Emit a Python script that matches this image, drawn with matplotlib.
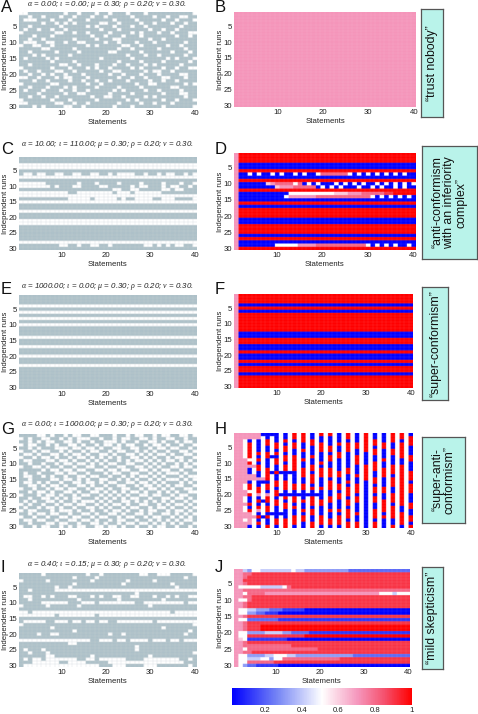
import numpy as np
import matplotlib
matplotlib.use("Agg")
import matplotlib.pyplot as plt
from matplotlib.colors import LinearSegmentedColormap, Normalize
from matplotlib.cm import ScalarMappable

plt.rcParams["font.family"] = ["Liberation Sans", "DejaVu Sans"]
plt.rcParams["mathtext.fontset"] = "custom"
plt.rcParams["mathtext.it"] = "Liberation Serif:italic"
plt.rcParams["mathtext.rm"] = "Liberation Serif:italic"

W, H = 478, 714

# left column: 1 = grey cell, 0 = white cell
run_labels = [5, 10, 15, 20, 25, 30]
stmt_labels = [10, 20, 30, 40]
cbar_labels = [0.2, 0.4, 0.6, 0.8, 1]
cbar_text = ["0.2", "0.4", "0.6", "0.8", "1"]

panel_a = """
00111 11111 01101 11011 01110 11101 11111 11110
11011 01110 11011 10110 11111 01111 01101 10011
10001 11011 10111 01111 10111 10111 11011 01110
11111 01101 01011 11100 11011 11011 01110 11011
11011 11110 11111 01011 10111 01101 11111 10111
10110 11011 01111 11101 11011 11110 11011 01111
01111 11100 11011 01111 01111 01011 10110 11100
11101 11011 11111 10110 11101 11011 11111 01101
11011 01111 11011 11011 10011 11110 11011 11111
10001 10011 01100 11110 11011 10111 01111 11011
01100 11011 11111 01011 11100 11011 11101 10111
11111 00111 11011 11111 11011 01111 10111 11011
11011 11101 11101 11111 00111 11011 11110 11101
11101 01111 10111 11111 11110 11101 10111 11011
10111 10101 11111 11101 11111 01111 11101 01110
11111 11011 11011 11111 11011 11011 11011 11101
11011 11110 01101 11011 10110 11101 01111 10111
01111 11011 10111 01011 01111 01011 11011 01100
10110 11100 11011 11101 10011 11101 00110 11111
11011 01011 01110 11111 01101 11011 10111 10011
00110 11101 00111 01111 11011 01101 11001 11011
11101 10111 10110 11011 01110 11110 11011 01111
01111 11001 11111 01101 11111 10110 01111 11010
11011 10111 01011 11011 11011 11011 11110 01111
10111 01110 11011 01111 10101 11101 10111 10111
11110 11111 01100 11111 01111 01111 11011 10011
11011 01101 11111 10110 01101 11101 01111 11011
01111 11011 10111 11011 11110 10111 11011 01110
00111 11100 11011 01111 11011 11011 01110 11111
11101 01111 00110 11111 10111 01111 11011 11110
"""

panel_c = """
11111 11111 11111 11111 11111 11111 11111 11111
11111 11111 11111 11111 11111 11111 11111 11111
00000 00000 00000 00000 00000 00000 00000 00000
00000 00000 00000 00000 00000 00000 00000 00000
11111 11111 11111 11111 11111 11111 11111 11111
10010 01100 11001 10011 01000 01101 10100 11010
00000 00000 00000 00000 00000 00000 00000 00000
11111 11111 11111 11111 11111 11111 11111 11111
00000 01111 11101 11011 11011 11011 11011 10110
00000 00101 11001 11100 11111 01001 11010 01101
11111 11111 11111 11111 10011 00111 11001 00111
00000 00000 01100 00000 01000 10000 00111 11111
00000 00000 00000 00000 00000 00000 00000 00000
11111 11111 10000 01000 00101 10000 11000 11110
00000 00000 00000 00000 00000 00000 00000 00000
11111 11111 11111 11111 11111 11111 11111 11111
11111 11111 11111 11111 11111 11111 11111 11111
00000 00000 00000 00000 00000 00000 00000 00000
11111 11111 11111 11111 11111 11111 11111 11111
11111 11111 11111 11111 11111 11111 11111 11111
00000 00000 00000 00000 00000 00000 00000 00000
00000 00000 00000 00000 00000 00000 00000 00000
11111 11111 11111 11111 11111 11111 11111 11111
11111 11111 11111 11111 11111 11111 11111 11111
11111 11111 11111 11111 11111 11111 11111 11111
11111 11111 11111 11111 11111 11111 11111 11111
11111 11111 11111 11111 11111 11111 11111 11111
00000 00000 00000 00000 00000 00000 00000 00000
11111 11110 01101 10011 01111 11100 10101 00110
11111 11111 11111 11111 11111 11111 11111 11111
"""

# rows of panel E with no grey cells at all
panel_e_white_rows = [4, 6, 8, 10, 14, 17, 20, 23]

panel_g = """
11110 01011 01001 10011 10110 10011 01001 10010
01011 00110 10100 01101 10100 11001 01100 11011
11010 10011 00101 10110 00101 10110 01011 01001
01001 10101 10010 11010 01010 01101 00101 10110
11010 11100 01001 00101 10011 00110 10010 01101
01101 00110 10110 10011 01001 10101 01101 10010
10010 11001 01001 01100 10110 01010 10010 11001
01101 00101 10100 10101 01011 00101 01101 00110
10011 10010 01011 01010 11010 10010 10100 10101
11011 01101 00100 10101 00110 01101 01011 01010
01100 10110 11011 00110 11001 10010 10110 01001
11111 01001 00100 11001 00100 11001 01001 10110
10110 11100 10011 01110 10011 00110 10100 01011
10011 01011 01100 10011 01101 01001 01011 10100
11011 11001 00101 01100 11010 10110 10100 01010
10010 10110 11001 00101 00110 01001 01011 10101
11001 01001 01100 10110 11001 10100 10101 00110
01101 10100 10011 01001 01100 11010 01010 11001
11010 01011 00101 10010 10101 00101 10101 01100
01110 10010 11010 01101 01010 11001 00110 10011
11011 00101 01001 11010 10101 00110 11001 00101
10101 10010 11010 00101 01100 10101 01010 11010
01011 01101 00100 11010 10010 11001 10101 00101
10110 10010 11011 00101 01101 00110 10010 11010
01001 11010 00101 10110 10010 11010 01101 00101
11010 01001 10110 01011 00101 10010 11001 01010
01101 10110 01001 10100 11010 01101 00110 10101
10010 01101 10010 01011 01001 10110 10101 01001
11011 10010 01101 10010 11010 01001 01010 10110
01101 00110 10100 11001 00101 10110 10011 01101
"""

panel_i = """
11111 01111 11111 01101 11111 11001 10001 11110
11111 11111 11011 11011 11111 11111 11111 11011
01111 10111 11111 10111 11110 11111 01111 11111
11111 11111 11011 11111 11101 11111 11110 11111
11111 11101 10111 11111 11111 11111 11111 01111
11011 11100 00000 00000 00000 00000 00000 00000
11111 11111 11111 11111 11111 10111 11111 11111
10011 01011 10011 10101 10011 00111 01101 01100
11011 11111 11101 11111 11011 11111 11011 11111
11111 00000 01110 00100 00000 01100 00000 00100
01111 10111 11101 11111 11111 11110 11111 11111
11111 11111 11111 11111 11111 11111 11111 11111
00100 00000 00000 00000 00000 00000 00001 00000
00000 00010 00000 00100 00000 00000 00000 00000
11111 11111 11111 11111 11111 11111 11111 11111
10000 01100 01001 00100 11000 00000 10000 00000
01111 11111 11111 11111 11111 11111 11111 11110
11111 11011 11111 11111 11111 11111 11011 11111
11111 11111 11011 11111 11111 11111 11111 11101
11110 11001 11111 11111 01101 11111 11111 11011
11111 11111 11111 11111 11111 11111 11111 11111
00000 00000 00000 01100 01001 00001 00010 01000
11111 11111 10011 11111 11111 11111 11111 11111
11111 11111 11111 11111 11111 10111 11111 11111
10111 01111 11111 11111 11111 10111 11111 11111
11011 10111 11111 11111 11111 11111 11111 11110
11111 10011 11111 10111 11111 11110 11111 11111
10100 10000 00011 00100 00001 11100 00000 01101
11100 00001 10000 11111 00000 00000 00000 00111
10000 00000 00000 00011 10001 11100 01111 11101
"""

# right column, one digit per cell: tenths of the value, a = 1.0
panel_b = ["7" * 40] * 30

panel_d = """
7aaaa aaaaa aaaaa aaaaa aaaaa aaaaa aaaaa aaaaa
7aaaa aaaaa aaaaa aaaaa aaaaa aaaaa aaaaa aaaaa
7aaaa aaaaa aaaaa aaaaa aaaaa aaaaa aaaaa aaaaa
70000 00000 00000 00000 00000 00000 00000 00000
70000 00000 00000 00000 00000 00000 00000 00000
7aaaa aaaaa aaaaa aaaaa aaaaa aaaaa aaaaa aaaaa
70050 50050 50050 50058 88888 50505 05050 50500
70000 00000 00000 00000 00000 00000 00000 00000
7aaaa aaaaa aaaaa aaaaa aaaaa aaaaa aaaaa aaaaa
70000 00678 88858 05050 00505 05050 05050 50505
70000 00006 77788 88805 05050 00500 50500 50500
7aaaa aaaaa aaaaa aaaaa aaaaa aaaaa aaaaa aaaaa
70000 00000 00555 55555 55666 77788 88899 aaaaa
70000 00000 05777 77788 88888 88888 50505 05050
70000 00000 00000 00000 00000 00000 00000 00000
7aaaa aaaaa aaaaa aaaaa aaaaa aaaaa aaaaa aaaaa
70000 00000 00000 00000 00000 00000 00000 00000
7aaaa aaaaa aaaaa aaaaa aaaaa aaaaa aaaaa aaaaa
7aaaa aaaaa aaaaa aaaaa aaaaa aaaaa aaaaa aaaaa
7aaaa aaaaa aaaaa aaaaa aaaaa aaaaa aaaaa aaaaa
70000 00000 00000 00000 00000 00000 00000 00000
70000 00000 00000 00000 00000 00000 00000 00000
7aaaa aaaaa aaaaa aaaaa aaaaa aaaaa aaaaa aaaaa
7aaaa aaaaa aaaaa aaaaa aaaaa aaaaa aaaaa aaaaa
7aaaa aaaaa aaaaa aaaaa aaaaa aaaaa aaaaa aaaaa
70000 00000 00000 00000 00000 00000 00000 00000
7aaaa aaaaa aaaaa aaaaa aaaaa aaaaa aaaaa aaaaa
70000 00000 00000 00000 00000 00000 00000 00000
70000 00005 55557 77788 88888 88885 05050 50050
7aaaa aaaaa aaaaa aaaaa aaaaa aaaaa aaaaa aaaaa
"""

# rows of panel F that are blue, the others are red
panel_f_blue_rows = [4, 6, 13, 14, 17, 18, 20, 21, 23, 26]

# panel H is read by column: p pink, w white, r red, b blue
panel_h_cols = [
    "ppppp ppppp ppppp ppppp ppppp ppppp",
    "ppppp ppppp ppppp ppppp ppppp ppppp",
    "ppwww wwwpp ppppp pwwpp wwpww ppwpp",
    "ppbrr rrrwr pbbpp brrwr bbrbr ppppb",
    "ppwww wwwww pwwpp wwwww wwwww wpwww",
    "ppbbb brbrb rrbbp bbrrp brbrp brbrb",
    "bwwww wwwww wwwwp bwwww wbwww wbwww",
    "bbrrb brrbb brrrr brrbp rrbrr brbbr",
    "bwwww wwbww wwbww wwwww wwwww bwwww",
    "bbbrr brbrr bbrbb rrbrr brrbb bbrrb",
    "wwwww wwwww wwbww wwwwb wwwww bwwww",
    "bbrbr rbrrb rrbbb rrrbb rbrrb bbrrr",
    "wwwww wwwww wwbww wwwwb wwwww wwwww",
    "rrbrr bbrrr rrbbb brrbb rrbrb brrrb",
    "wwwww wwwww wwwww wwwwb wwwww wwwww",
    "rrrbb rbbrb brrrb brrbb brbbr brrbb",
    "wwwww wwwww wwwww wwwwb wwwww wwwww",
    "bbrrb bbrbb rrbrr rbrbb rrrbr rbbrr",
    "wwwww wwwww wwwww wwwwb wwwww wwwww",
    "rbbrr rbbbr brrrb bbrbb brrbb brrrb",
    "wwwww wwwww wwwww wwwww wwwww wwwww",
    "rbbbr rbrrb brrrb rrrbb rrbbr bbrrb",
    "wwwww wwwww wwwww wwwww wwwww wwwww",
    "bbbrb brrbb bbrrb brrbr rbbbr brrrb",
    "wwwww wwwww wwwww wwwww wwwww wwwww",
    "rrbrr rbbbb brrbb rbrrr brrbr rrbrr",
    "wwwww wwwww wwwww wwwww wwwww wwwww",
    "bbbrr bbrrr bbbrb brrrb rrbbb rbbrr",
    "wwwww wwwww wwwww wwwww wwwww wwwww",
    "rrrrr rbbbb rrrrr bbbbb bbbbb bbbbb",
    "wwwww wwwww wwwww wwwww wwwww wwwww",
    "bbrrb rrbbr rrbbr rbrrb rrbbr rrbrr",
    "wwwww wwwww wwwww wwwww wwwww wwwww",
    "bbbrr bbbrb brrrb bbrrb brrrr brbbb",
    "wwwww wwwww wwwww wwwww wwwww wwwww",
    "rrrbb rrbbb rrrbr rrbbr rrbrr rrbbr",
    "wwwww wwwww wwwww wwwww wwwww wwwww",
    "rrbrr rrrbb rrrrr rrrrr rrrbb rrrrb",
    "wwwww wwwww wwwww wwwww wwwww wwwww",
    "brrrb bbrrb bbrrr brrrb bbrrb brrbr",
]
h_levels = {"p": 0.7, "w": 0.5, "r": 1.0, "b": 0.0}

panel_j = """
77435 54444 44454 43333 33333 32222 22222 22222
77889 99999 99999 99999 99999 99999 99999 99999
77899 99999 99999 99999 99999 99999 99999 99999
77999 99999 99999 99999 99999 99999 99999 99999
77899 99999 99999 99999 99999 99999 99999 99999
75555 54444 45899 99999 99999 99999 99999 99999
77888 88888 88888 88888 88888 88888 88888 88888
77588 88777 77777 77777 77777 77777 77755 54555
77889 99999 99999 99999 99999 99999 99999 99999
75589 99999 99999 99999 99999 99999 99999 99999
77899 99999 99999 99999 99999 99999 99999 99999
77899 99999 99999 99999 99999 99999 99999 99999
75544 33322 21111 10000 00000 00000 00000 00000
75533 22111 00000 00000 00000 00000 00000 00000
77899 99999 99999 99999 99999 99999 99999 99999
75522 22222 11111 11111 11111 11111 11111 11111
77899 99999 99999 99999 99999 99999 99999 99999
77899 9aaaa aaaaa aaaaa aaaaa aaaaa aaaaa aaaaa
77899 9aaaa aaaaa aaaaa aaaaa aaaaa aaaaa aaaaa
75533 33444 43322 22111 11111 11111 11111 11111
75599 99999 99999 9aaaa aaaaa aaaaa aaaaa aaaaa
76511 11111 11000 00000 00000 00000 00000 00000
77899 99999 99999 99999 99999 99999 99999 99999
77888 88888 88899 99999 99999 99999 99999 99999
77588 88888 88888 88889 99999 99999 99999 99999
77889 99999 99999 99999 99999 99999 99999 99999
75533 33445 55443 33333 33333 33222 22222 22222
75544 45535 58888 88888 88889 99999 99999 99999
75588 88889 99999 99999 99999 99999 99999 99999
75322 11111 00000 00000 00000 00000 00000 00000
"""

# panel: alpha, iota
titles = {
    "A": (0.00, 0.00),
    "C": (10.00, 110.00),
    "E": (1000.00, 0.00),
    "G": (0.00, 1000.00),
    "I": (0.40, 0.15),
}
box_texts = {
    "B": "\u201ctrust nobody\u201d",
    "D": "\u201canti-conformism\nwith an inferiority\ncomplex\u201d",
    "F": "\u201csuper-conformism\u201d",
    "H": "\u201csuper-anti-\nconformism\u201d",
    "J": "\u201cmild skepticism\u201d",
}


def parse(text):
    return [r.replace(" ", "") for r in text.strip().splitlines()]


def digits(rows):
    return np.array([[1.0 if c == "a" else int(c) / 10 for c in r] for r in rows])


def binary(rows):
    return np.array([[int(c) for c in r] for r in rows])


def px_axes(fig, x0, y0, x1, y1):
    return fig.add_axes([x0 / W, 1 - y1 / H, (x1 - x0) / W, (y1 - y0) / H])


def style_axes(ax):
    ax.set_xlim(0.5, 40.5)
    ax.set_ylim(30.5, 0.5)
    ax.set_aspect("auto")
    ax.set_xticks(stmt_labels)
    ax.set_yticks(run_labels)
    ax.tick_params(length=0, labelsize=5.6, pad=1.5, colors="#222222")
    for s in ax.spines.values():
        s.set_visible(False)
    ax.set_xlabel("Statements", fontsize=5.6, labelpad=1.5, color="#222222")
    ax.set_ylabel("Independent runs", fontsize=5.6, labelpad=-0.5, color="#222222")


def show_cells(ax, data, cmap):
    # repeat each cell so the image gets smoothed when it is scaled down
    big = np.repeat(np.repeat(data, 10, axis=0), 10, axis=1)
    ax.imshow(big, cmap=cmap, vmin=0, vmax=1, extent=(0.5, 40.5, 30.5, 0.5),
              aspect="auto", interpolation="hanning")


def grid_lines(ax, color, width, alpha):
    ax.vlines(np.arange(1.5, 40), 0.5, 30.5, colors=color, linewidth=width, alpha=alpha)
    ax.hlines(np.arange(1.5, 30), 0.5, 40.5, colors=color, linewidth=width, alpha=alpha)


greys = LinearSegmentedColormap.from_list("g", ["#ffffff", "#aec1c9"])
score_cmap = LinearSegmentedColormap.from_list(
    "score",
    [(0, "#0000ff"), (0.25, "#7585f5"), (0.5, "#ffffff"),
     (0.7, "#f596bc"), (0.85, "#f5506c"), (1, "#ff0000")],
)

fig = plt.figure(figsize=(W / 100, H / 100), dpi=100)

# data for the two panels that only have whole stripes
panel_e = np.ones((30, 40), dtype=int)
panel_e[np.array(panel_e_white_rows) - 1, :] = 0
panel_f = np.ones((30, 40))
panel_f[np.array(panel_f_blue_rows) - 1, :] = 0.0
panel_f[:, 0] = 0.7
panel_h = np.array([[h_levels[c] for c in col.replace(" ", "")] for col in panel_h_cols]).T

left = {
    "A": (12, 108, 8, 5, binary(parse(panel_a))),
    "C": (157, 250, 149, 145, binary(parse(panel_c))),
    "E": (295, 389, 289, 287, panel_e),
    "G": (434, 528, 429, 425, binary(parse(panel_g))),
    "I": (573, 667, 567, 564, binary(parse(panel_i))),
}
for name, (y0, y1, letter_y, title_y, data) in left.items():
    ax = px_axes(fig, 19, y0, 197, y1)
    show_cells(ax, data, greys)
    grid_lines(ax, "#c8d2d6", 0.25, 0.8)
    style_axes(ax)
    fig.text(1 / W, 1 - letter_y / H, name, fontsize=12, va="center", ha="left", color="#111111")
    a, i = titles[name]
    fig.text(107 / W, 1 - title_y / H,
             r"$\alpha$ = %.2f; $\iota$ = %.2f; $\mu$ = 0.30; $\rho$ = 0.20; $\nu$ = 0.30." % (a, i),
             fontsize=5.7, style="italic", ha="center", va="center", color="#222222")

right = {
    "B": (12, 107, 416, 8, digits(panel_b)),
    "D": (153, 250, 415, 149, digits(parse(panel_d))),
    "F": (294, 388, 413, 289, panel_f),
    "H": (433, 528, 413, 429, panel_h),
    "J": (569, 667, 410, 568, digits(parse(panel_j))),
}
for name, (y0, y1, x1, letter_y, data) in right.items():
    ax = px_axes(fig, 234, y0, x1, y1)
    show_cells(ax, data, score_cmap)
    grid_lines(ax, "#ffffff", 0.2, 0.25)
    style_axes(ax)
    fig.text(215 / W, 1 - letter_y / H, name, fontsize=12, va="center", ha="left", color="#111111")

boxes = {
    "B": (421, 9, 443, 117),
    "D": (422, 146, 477, 259),
    "F": (422, 287, 448, 400),
    "H": (422, 437, 465, 523),
    "J": (422, 567, 443, 669),
}
for name, (x0, y0, x1, y1) in boxes.items():
    bx = px_axes(fig, x0, y0, x1, y1)
    bx.set_xticks([])
    bx.set_yticks([])
    bx.set_facecolor("#b9f3ea")
    for s in bx.spines.values():
        s.set_color("#555555")
        s.set_linewidth(0.9)
    bx.text(0.5, 0.5, box_texts[name], rotation=90, ha="center", va="center",
            transform=bx.transAxes, fontsize=8.8, color="#111111", linespacing=1.05)

cax = px_axes(fig, 232, 688, 412, 705)
sm = ScalarMappable(norm=Normalize(0.02, 1), cmap=score_cmap)
cb = fig.colorbar(sm, cax=cax, orientation="horizontal", ticks=cbar_labels)
cb.ax.set_xticklabels(cbar_text)
cb.ax.tick_params(length=0, labelsize=5.6, pad=1.5, colors="#222222")
cb.outline.set_visible(False)

fig.savefig("out.png", dpi=100)
